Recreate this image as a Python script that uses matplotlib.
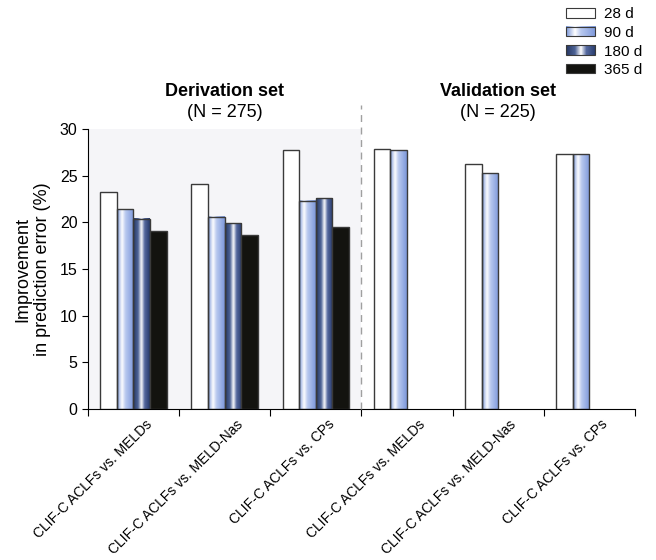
import numpy as np
import matplotlib
matplotlib.use("Agg")
import matplotlib.pyplot as plt
from matplotlib.colors import LinearSegmentedColormap
from matplotlib.patches import Rectangle
from matplotlib.legend_handler import HandlerBase
from matplotlib.image import BboxImage
from matplotlib.transforms import Bbox, TransformedBbox, ScaledTranslation

# data
comparisons = ["CLIF-C ACLFs vs. MELDs", "CLIF-C ACLFs vs. MELD-Nas", "CLIF-C ACLFs vs. CPs",
               "CLIF-C ACLFs vs. MELDs", "CLIF-C ACLFs vs. MELD-Nas", "CLIF-C ACLFs vs. CPs"]
series_names = ["28 d", "90 d", "180 d", "365 d"]
d28 = [23.3, 24.1, 27.7, 27.9, 26.2, 27.3]
d90 = [21.4, 20.6, 22.3, 27.7, 25.25, 27.3]
d180 = [20.4, 19.9, 22.6, np.nan, np.nan, np.nan]
d365 = [19.1, 18.6, 19.5, np.nan, np.nan, np.nan]
yticks = [0, 5, 10, 15, 20, 25, 30]

plt.rcParams['font.family'] = ['Liberation Sans', 'DejaVu Sans']

# gradient colour maps for the shaded bars
cmap90 = LinearSegmentedColormap.from_list(
    "g90", [(0, "#7593d8"), (0.3, "#ffffff"), (0.5, "#b9c9ef"), (1, "#7c97da")])
cmap180 = LinearSegmentedColormap.from_list(
    "g180", [(0, "#253660"), (0.3, "#4c6296"), (0.5, "#ffffff"), (0.68, "#55699f"), (1, "#26396a")])
grad = np.linspace(0, 1, 256).reshape(1, -1)

edge = "#3a3a3a"


class GradHandler(HandlerBase):
    def __init__(self, cmap):
        super().__init__()
        self.cmap = cmap

    def create_artists(self, legend, orig_handle, xdescent, ydescent,
                       width, height, fontsize, trans):
        bb = TransformedBbox(Bbox.from_bounds(-xdescent, -ydescent, width, height), trans)
        img = BboxImage(bb, cmap=self.cmap, interpolation='bicubic')
        img.set_data(grad)
        rect = Rectangle((-xdescent, -ydescent), width, height, fc='none',
                         ec=edge, lw=0.8, transform=trans)
        return [img, rect]


fig = plt.figure(figsize=(6.56, 5.6), dpi=100)
ax = fig.add_axes([0.134, 0.2696, 0.834, 0.5])

x = np.arange(len(comparisons))
bw = 0.182
offsets = np.array([-1.5, -0.5, 0.5, 1.5]) * bw

ax.axvspan(-0.5, 2.5, color="#f5f5f8", zorder=0, lw=0)

b28 = ax.bar(x + offsets[0], d28, bw, color="white", edgecolor=edge, lw=1, zorder=3)
b90 = ax.bar(x + offsets[1], d90, bw, color="none", edgecolor=edge, lw=1, zorder=3)
b180 = ax.bar(x + offsets[2], d180, bw, color="none", edgecolor=edge, lw=1, zorder=3)
b365 = ax.bar(x + offsets[3], d365, bw, color="#13130f", edgecolor=edge, lw=1, zorder=3)

for bars, cm in [(b90, cmap90), (b180, cmap180)]:
    for b in bars:
        h = b.get_height()
        if np.isnan(h):
            continue
        x0 = b.get_x()
        ax.imshow(grad, cmap=cm, extent=[x0, x0 + b.get_width(), 0, h],
                  aspect='auto', interpolation='bicubic', zorder=2)

ax.set_xlim(-0.5, 5.5)
ax.set_ylim(0, 30)
ax.set_yticks(yticks)
ax.tick_params(axis='y', labelsize=11.5, length=4)

ax.spines['top'].set_visible(False)
ax.spines['right'].set_visible(False)

# separator ticks between groups, labels at group centres
ax.set_xticks(np.arange(-0.5, 6, 1))
ax.set_xticklabels([])
ax.set_xticks(x, minor=True)
ax.set_xticklabels(comparisons, minor=True, rotation=45, ha='right',
                   rotation_mode='anchor', fontsize=10)
ax.tick_params(axis='x', which='minor', length=0, pad=6)
ax.tick_params(axis='x', which='major', length=5)
for lab in ax.get_xticklabels(minor=True):
    lab.set_transform(lab.get_transform() + ScaledTranslation(8 / 72, 0, fig.dpi_scale_trans))

ax.set_ylabel("Improvement\nin prediction error (%)", fontsize=13, labelpad=6)

# dashed divider between derivation and validation
ax.axvline(2.5, ymin=0, ymax=1.085, color="#a0a0a0", ls=(0, (5, 4)), lw=1, clip_on=False, zorder=4)

ax.text(1.0, 1.104, "Derivation set", transform=ax.get_xaxis_transform(),
        ha='center', va='bottom', fontsize=13, fontweight='bold')
ax.text(1.0, 1.029, "(N = 275)", transform=ax.get_xaxis_transform(),
        ha='center', va='bottom', fontsize=13)
ax.text(4.0, 1.104, "Validation set", transform=ax.get_xaxis_transform(),
        ha='center', va='bottom', fontsize=13, fontweight='bold')
ax.text(4.0, 1.029, "(N = 225)", transform=ax.get_xaxis_transform(),
        ha='center', va='bottom', fontsize=13)

# legend
handles = [Rectangle((0, 0), 1, 1, fc="white", ec=edge, lw=0.8),
           Rectangle((0, 0), 1, 1), Rectangle((0, 0), 1, 1),
           Rectangle((0, 0), 1, 1, fc="#13130f", ec=edge, lw=0.8)]
fig.legend(handles, series_names, loc='upper right', bbox_to_anchor=(0.995, 1.006),
           frameon=False, fontsize=11, handlelength=1.9, handleheight=0.55,
           labelspacing=0.3, handletextpad=0.6, borderpad=0.2,
           handler_map={handles[1]: GradHandler(cmap90), handles[2]: GradHandler(cmap180)})

fig.savefig("out.png", dpi=100)
